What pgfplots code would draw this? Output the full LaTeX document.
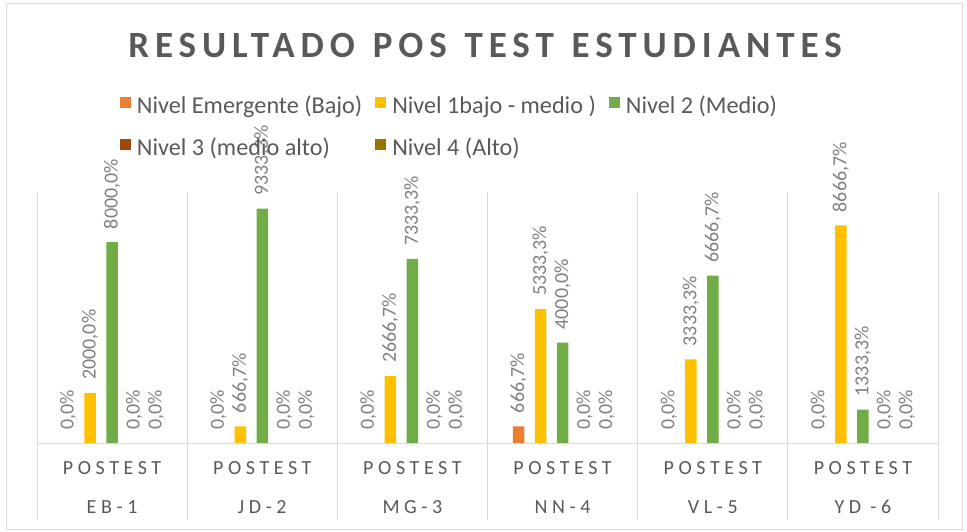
\documentclass[border=0pt]{standalone}
\usepackage{pgfplots}
\pgfplotsset{compat=1.18}
\usepackage{fontspec}
\setmainfont{Carlito}
\newfontfamily\titlefont[LetterSpace=16,WordSpace=1.25]{Carlito}
\newfontfamily\catfont[LetterSpace=23]{Carlito}
\definecolor{cE}{HTML}{ED7D31}
\definecolor{cA}{HTML}{FFC000}
\definecolor{cB}{HTML}{70AD47}
\definecolor{cC}{HTML}{9E480E}
\definecolor{cD}{HTML}{997300}
\definecolor{txt}{HTML}{595959}
\definecolor{lbl}{HTML}{808080}
\definecolor{gridc}{HTML}{D9D9D9}
\pgfplotsset{legsq/.style={legend image code/.code={\fill[##1] (0pt,0.5pt) rectangle (11pt,11.5pt);}}}
\begin{document}
\begin{tikzpicture}
\path[use as bounding box] (0,0) rectangle (967pt,-531pt);
\draw[gridc] (6pt,-3pt) rectangle (962pt,-529pt);
\node[anchor=base, text=txt, font=\titlefont\bfseries\fontsize{37}{44}\selectfont] at (485pt,-57pt) {RESULTADO POS TEST ESTUDIANTES};
\begin{axis}[
  at={(37pt,-443pt)}, anchor=south west,
  scale only axis, width=901pt, height=251pt,
  xmin=-0.5, xmax=5.5, ymin=0, ymax=10000,
  enlargelimits=false, clip=false,
  ybar=10.5pt, bar width=11.5pt,
  axis x line=bottom, axis y line=none,
  x axis line style={draw=none},
  xtick={0,1,2,3,4,5},
  xticklabels={POSTEST,POSTEST,POSTEST,POSTEST,POSTEST,POSTEST},
  major tick length=0pt,
  xtick style={draw=none},
  xticklabel style={anchor=base, yshift=-31pt, text=txt, font=\catfont\fontsize{20}{24}\selectfont},
  extra x ticks={0,1,2,3,4,5},
  extra x tick labels={EB-1,JD-2,MG-3,NN-4,VL-5,YD -6},
  extra x tick style={xtick style={draw=none}, xticklabel style={yshift=-39pt}},
  /pgf/number format/fixed, /pgf/number format/fixed zerofill,
  /pgf/number format/precision=1, /pgf/number format/use comma,
  /pgf/number format/1000 sep={}, /pgf/number format/assume math mode=true,
  nodes near coords={\pgfmathprintnumber{\pgfplotspointmeta}\%},
  nodes near coords style={rotate=90, anchor=west, inner xsep=13pt, inner ysep=0pt, text=lbl, font=\fontsize{20}{24}\selectfont},
  legend columns=3,
  legend cell align=left,
  legend style={at={(axis description cs:0.0921,1.3785)}, anchor=north west, draw=none, fill=none,
    inner sep=0pt, outer sep=0pt, text=txt, font=\fontsize{24.2}{29}\selectfont,
    row sep=20pt,
    nodes={inner sep=0pt, text height=15pt, text depth=5pt},
    /tikz/every odd column/.append style={column sep=6pt},
    /tikz/every even column/.append style={column sep=13pt}},
]
\addplot[fill=cE, draw=none, legsq] coordinates {(0,0) (1,0) (2,0) (3,666.7) (4,0) (5,0)};
\addplot[fill=cA, draw=none, legsq] coordinates {(0,2000) (1,666.7) (2,2666.7) (3,5333.3) (4,3333.3) (5,8666.7)};
\addplot[fill=cB, draw=none, legsq] coordinates {(0,8000) (1,9333.3) (2,7333.3) (3,4000) (4,6666.7) (5,1333.3)};
\addplot[fill=cC, draw=none, legsq] coordinates {(0,0) (1,0) (2,0) (3,0) (4,0) (5,0)};
\addplot[fill=cD, draw=none, legsq] coordinates {(0,0) (1,0) (2,0) (3,0) (4,0) (5,0)};
\legend{Nivel Emergente (Bajo),Nivel 1bajo - medio ),Nivel 2 (Medio),Nivel 3 (medio alto),Nivel 4 (Alto)}
\draw[gridc, line width=1pt] (axis cs:-0.5,0) -- (axis cs:5.5,0);
\pgfplotsinvokeforeach{-0.5,0.5,1.5,2.5,3.5,4.5,5.5}{
  \draw[gridc, line width=1pt] (axis cs:#1,10000) -- ([yshift=-77pt]axis cs:#1,0);
}
\end{axis}
\end{tikzpicture}
\end{document}
